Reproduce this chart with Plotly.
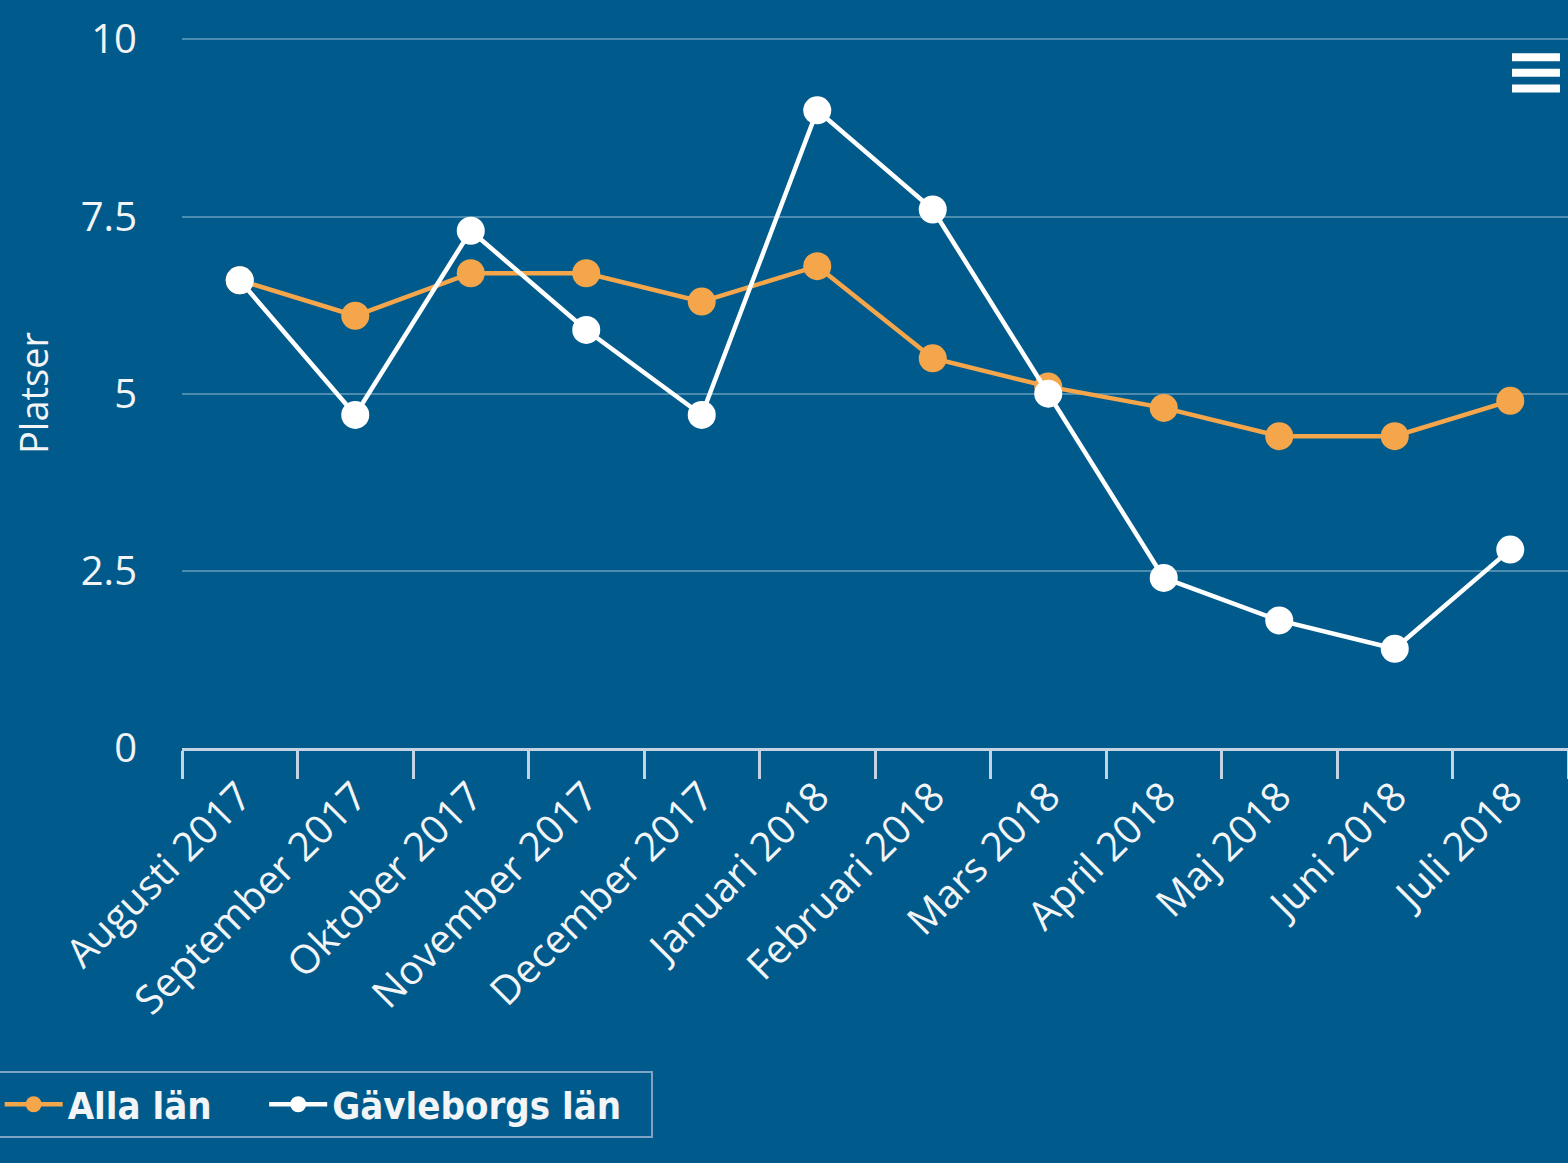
import plotly.graph_objects as go

BG = '#005B8C'
ORANGE = '#F5A64A'
WHITE = '#FFFFFF'

manader = ['Augusti 2017', 'September 2017', 'Oktober 2017', 'November 2017',
           'December 2017', 'Januari 2018', 'Februari 2018', 'Mars 2018',
           'April 2018', 'Maj 2018', 'Juni 2018', 'Juli 2018']
alla_lan = [6.6, 6.1, 6.7, 6.7, 6.3, 6.8, 5.5, 5.1, 4.8, 4.4, 4.4, 4.9]
gavleborg = [6.6, 4.7, 7.3, 5.9, 4.7, 9.0, 7.6, 5.0, 2.4, 1.8, 1.4, 2.8]
y_ticks = [0, 2.5, 5, 7.5, 10]
y_ticktext = ['0', '2.5', '5', '7.5', '10']

# non-breaking spaces pad the legend entries apart, like the original
PAD = '\u00a0'

fig = go.Figure()
fig.add_trace(go.Scatter(
    x=manader, y=alla_lan, name='Alla län' + PAD * 4, mode='lines+markers',
    line=dict(color=ORANGE, width=4.5),
    marker=dict(color=ORANGE, size=28)
))
fig.add_trace(go.Scatter(
    x=manader, y=gavleborg, name='Gävleborgs län' + PAD * 2, mode='lines+markers',
    line=dict(color=WHITE, width=4.5),
    marker=dict(color=WHITE, size=28)
))

# menu icon (three bars) top right
for yy in [0.973, 0.951, 0.929]:
    fig.add_shape(type='line', xref='paper', yref='paper',
                  x0=0.9596, x1=0.9942, y0=yy, y1=yy,
                  line=dict(color=WHITE, width=8))

fig.update_layout(
    width=1568, height=1163,
    paper_bgcolor=BG, plot_bgcolor=BG,
    margin=dict(l=182, r=0, t=38, b=415, autoexpand=False),
    font=dict(family='Open Sans', color='#F2F4F6'),
    showlegend=True,
    legend=dict(
        orientation='h', x=-0.133, xanchor='left', y=-0.455, yanchor='top',
        bgcolor='rgba(0,0,0,0)', bordercolor='#7FA3C2', borderwidth=2,
        font=dict(family='DejaVu Sans Condensed, Liberation Sans Narrow, Liberation Sans',
                  size=38, color='#F2F4F6', weight='bold'),
        itemsizing='trace', itemwidth=58,
        tracegroupgap=0
    ),
    xaxis=dict(
        type='category', showgrid=False, zeroline=False,
        showline=True, linecolor='#C3D3E3', linewidth=3,
        ticks='outside', tickson='boundaries', ticklen=28, tickwidth=3, tickcolor='#C3D3E3',
        tickangle=-45, tickfont=dict(size=40, family='Open Sans', color='#F2F4F6'),
        ticklabelstandoff=6,
        range=[-0.5, 11.5]
    ),
    yaxis=dict(
        range=[0, 10.02], tickvals=y_ticks, ticktext=y_ticktext,
        showgrid=True, gridcolor='#4C8CAE', gridwidth=2, zeroline=False,
        showline=False, ticks='', ticklabelstandoff=44,
        tickfont=dict(size=40, family='Open Sans', color='#F2F4F6'),
        title=dict(text='Platser', standoff=20,
                   font=dict(size=38, family='Open Sans', color='#F2F4F6'))
    )
)

fig.write_html('out.html', config={'displayModeBar': False},
               post_script="document.body.style.margin='0';"
                           "document.body.style.background='#005B8C';")
